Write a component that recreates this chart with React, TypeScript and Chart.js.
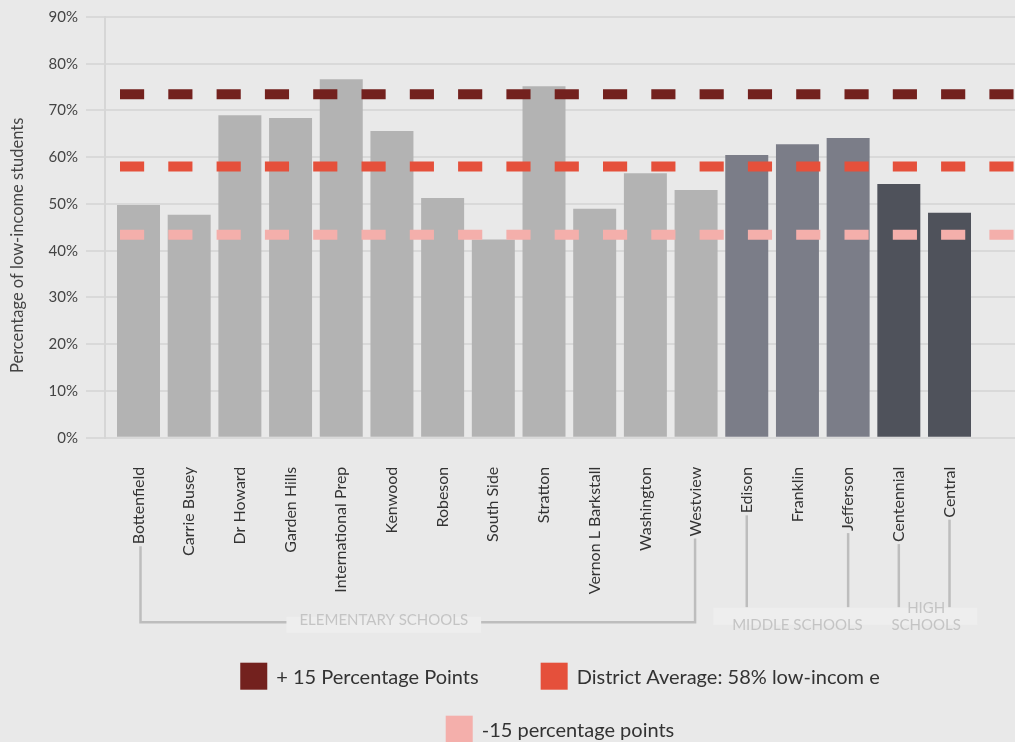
import { useEffect, useRef } from "react";
import { Chart, registerables } from "chart.js";

Chart.register(...registerables);

const FONT = "Lato, 'Open Sans', sans-serif";

// ---- data ----
const schools = [
  "Bottenfield", "Carrie Busey", "Dr Howard", "Garden Hills", "International Prep", "Kenwood",
  "Robeson", "South Side", "Stratton", "Vernon L Barkstall", "Washington", "Westview",
  "Edison", "Franklin", "Jefferson", "Centennial", "Central",
];
const lowIncomePct = [49.8, 47.7, 69.0, 68.4, 76.7, 65.6, 51.3, 42.4, 75.2, 49.0, 56.6, 53.0, 60.5, 62.8, 64.1, 54.3, 48.1];
const schoolLevel = [
  "elementary", "elementary", "elementary", "elementary", "elementary", "elementary",
  "elementary", "elementary", "elementary", "elementary", "elementary", "elementary",
  "middle", "middle", "middle", "high", "high",
];
const levelColors: Record<string, string> = { elementary: "#b3b3b3", middle: "#7b7d88", high: "#4f525b" };

const refLineLabels = ["+ 15 Percentage Points", "District Average: 58% low-incom e", "-15 percentage points"];
const refLineValues = [73.5, 58.0, 43.4];
const refLineColors = ["#73211e", "#e5503b", "#f4afab"];

const yAxisTitle = "Percentage of low-income students";

// school-group annotations under the axis
const elementaryLabel = "ELEMENTARY SCHOOLS";
const elementaryEnds = [0, 11];
const middleLabel = "MIDDLE SCHOOLS";
const middleEnds = [12, 14];
const highLabelLines = ["HIGH", "SCHOOLS"];
const highEnds = [15, 16];

const BG = "#e9e9e9";
const TICK_PAD = 21;

const bgPlugin = {
  id: "bg",
  beforeDraw(chart: any) {
    const { ctx } = chart;
    ctx.save();
    ctx.fillStyle = BG;
    ctx.fillRect(0, 0, chart.width, chart.height);
    ctx.restore();
  },
};

const yTitlePlugin = {
  id: "yTitle",
  afterDraw(chart: any) {
    const { ctx, chartArea } = chart;
    ctx.save();
    ctx.translate(18, (chartArea.top + chartArea.bottom) / 2 + 18);
    ctx.rotate(-Math.PI / 2);
    ctx.font = `16.5px ${FONT}`;
    ctx.fillStyle = "#444444";
    ctx.textAlign = "center";
    ctx.textBaseline = "middle";
    ctx.fillText(yAxisTitle, 0, 0);
    ctx.restore();
  },
};

const refLinesPlugin = {
  id: "refLines",
  afterDatasetsDraw(chart: any) {
    const { ctx, chartArea, scales } = chart;
    const y = scales.y;
    ctx.save();
    ctx.beginPath();
    ctx.rect(chartArea.left, 0, chartArea.right - chartArea.left, chart.height);
    ctx.clip();
    refLineValues.forEach((v, i) => {
      const py = y.getPixelForValue(v);
      ctx.strokeStyle = refLineColors[i];
      ctx.lineWidth = 10;
      ctx.setLineDash([24.15, 24.15]);
      ctx.lineDashOffset = 33.3;
      ctx.beginPath();
      ctx.moveTo(chartArea.left, py);
      ctx.lineTo(chartArea.right, py);
      ctx.stroke();
    });
    ctx.restore();
  },
};

const groupsPlugin = {
  id: "groups",
  afterDraw(chart: any) {
    const { ctx, chartArea, scales } = chart;
    const x = scales.x;
    const B = chartArea.bottom;
    ctx.save();
    ctx.font = `16px ${FONT}`;
    const labelEnd = (i: number) => B + TICK_PAD + ctx.measureText(schools[i]).width + 10;
    const px = (i: number) => x.getPixelForValue(i);
    const step = px(1) - px(0);

    ctx.strokeStyle = "#bdbdbd";
    ctx.lineWidth = 2.5;
    ctx.setLineDash([]);

    // elementary bracket
    const bY = B + 184.5;
    const e0 = px(elementaryEnds[0]) + 2;
    const e1 = px(elementaryEnds[1]) - 1;
    ctx.beginPath();
    ctx.moveTo(e0, labelEnd(elementaryEnds[0]));
    ctx.lineTo(e0, bY);
    ctx.lineTo(e1, bY);
    ctx.lineTo(e1, labelEnd(elementaryEnds[1]));
    ctx.stroke();

    // middle/high vertical lines
    const mhEnd = B + 169.5;
    [...middleEnds, ...highEnds].forEach((i) => {
      ctx.beginPath();
      ctx.moveTo(px(i), labelEnd(i));
      ctx.lineTo(px(i), mhEnd);
      ctx.stroke();
    });

    // boxes
    ctx.font = `15px ${FONT}`;
    ctx.fillStyle = "#eeeeee";
    const eCenter = (e0 + e1) / 2 - 34;
    const eW = ctx.measureText(elementaryLabel).width + 26;
    ctx.fillRect(eCenter - eW / 2, B + 179, eW, 16);
    const mhLeft = px(middleEnds[0]) - 0.66 * step;
    const mhRight = px(highEnds[1]) + 0.55 * step;
    ctx.fillRect(mhLeft, B + 170, mhRight - mhLeft, 17);

    // texts
    ctx.fillStyle = "#c4c4c4";
    ctx.textAlign = "center";
    ctx.textBaseline = "middle";
    ctx.fillText(elementaryLabel, eCenter, B + 182);
    const mCenter = (px(middleEnds[0]) + px(middleEnds[1])) / 2;
    ctx.fillText(middleLabel, mCenter, B + 187);
    const hCenter = (px(highEnds[0]) + px(highEnds[1])) / 2 + 2;
    ctx.fillText(highLabelLines[0], hCenter, B + 170.5);
    ctx.fillText(highLabelLines[1], hCenter, B + 187);
    ctx.restore();
  },
};

const legendPlugin = {
  id: "customLegend",
  afterDraw(chart: any) {
    const { ctx, chartArea } = chart;
    const B = chartArea.bottom;
    const box = 27;
    const gapText = 9;
    const gapItem = 62;
    const maxRow = 700;
    ctx.save();
    ctx.font = `20px ${FONT}`;
    const widths = refLineLabels.map((t) => box + gapText + ctx.measureText(t).width);
    const rows: number[][] = [[]];
    let rowW = 0;
    widths.forEach((w, i) => {
      const cur = rows[rows.length - 1];
      const add = cur.length ? gapItem + w : w;
      if (cur.length && rowW + add > maxRow) {
        rows.push([i]);
        rowW = w;
      } else {
        cur.push(i);
        rowW += add;
      }
    });
    const cx = (chartArea.left + chartArea.right) / 2;
    rows.forEach((row, r) => {
      const total = row.reduce((s, i, k) => s + widths[i] + (k ? gapItem : 0), 0);
      let xx = cx - total / 2;
      const cy = B + 238.5 + r * 53;
      row.forEach((i) => {
        ctx.fillStyle = refLineColors[i];
        ctx.fillRect(xx, cy - box / 2, box, box);
        ctx.fillStyle = "#333333";
        ctx.textAlign = "left";
        ctx.textBaseline = "middle";
        ctx.fillText(refLineLabels[i], xx + box + gapText, cy + 1);
        xx += widths[i] + gapItem;
      });
    });
    ctx.restore();
  },
};

export default function App() {
  const ref = useRef<HTMLCanvasElement>(null);
  useEffect(() => {
    document.body.style.background = BG;
    const canvas = ref.current!;
    const chart = new Chart(canvas, {
      type: "bar",
      data: {
        datasets: [
          {
            label: yAxisTitle,
            data: lowIncomePct.map((v, i) => ({ x: i, y: v })),
            backgroundColor: schoolLevel.map((l) => levelColors[l]),
            borderWidth: 0,
            barPercentage: 0.848,
            categoryPercentage: 1,
          },
        ],
      },
      options: {
        responsive: false,
        animation: false,
        layout: { padding: { top: 16, left: 0, right: 0, bottom: 0 } },
        plugins: { legend: { display: false }, tooltip: { enabled: false } },
        scales: {
          x: {
            type: "linear",
            offset: false,
            min: -0.661,
            max: 17.292,
            grid: { display: false, offset: false },
            border: { display: false },
            afterBuildTicks: (s: any) => {
              s.ticks = schools.map((_, i) => ({ value: i }));
            },
            afterFit: (s: any) => {
              s.height = 304.3;
              s.paddingLeft = 0;
              s.paddingRight = 0;
            },
            ticks: {
              autoSkip: false,
              minRotation: 90,
              maxRotation: 90,
              padding: TICK_PAD,
              color: "#333333",
              font: { family: FONT, size: 16 },
              callback: (v: any) => schools[v as number],
            },
          },
          y: {
            min: 0,
            max: 90,
            afterFit: (s: any) => {
              s.width = 105;
            },
            ticks: {
              stepSize: 10,
              padding: 8,
              color: "#444444",
              font: { family: FONT, size: 15 },
              callback: (v: any) => `${v}%`,
            },
            grid: { color: "#d9d9d9", lineWidth: 2, tickLength: 19, tickColor: "#d9d9d9" },
            border: { color: "#d6d6d6", width: 2 },
            title: { display: false },
          },
        },
      },
      plugins: [bgPlugin, refLinesPlugin, groupsPlugin, legendPlugin, yTitlePlugin],
    } as any);
    return () => chart.destroy();
  }, []);
  return (
    <div style={{ position: "absolute", left: 0, top: 0, width: 1015, height: 742, background: BG }}>
      <canvas ref={ref} width={1015} height={742} style={{ display: "block", width: 1015, height: 742 }} />
    </div>
  );
}
